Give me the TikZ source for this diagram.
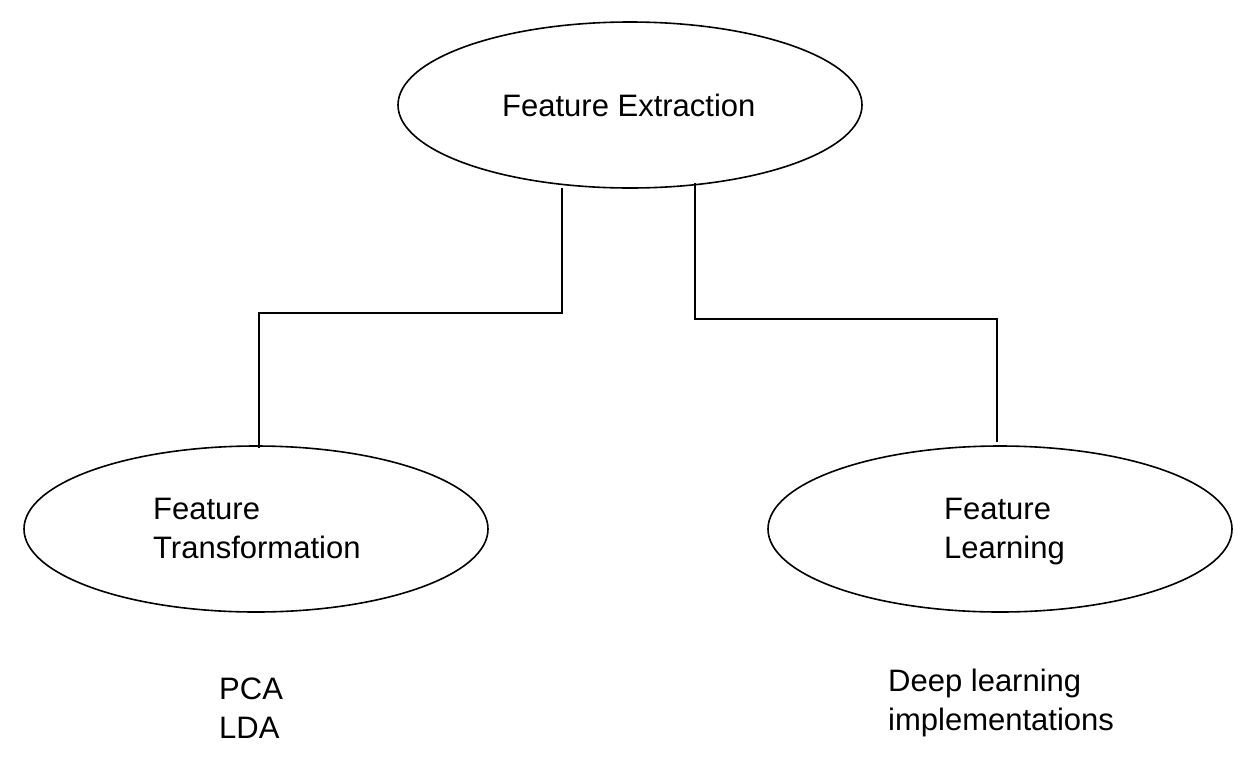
\documentclass[tikz,border=0pt]{standalone}
\usepackage{fontspec}
\setmainfont{Liberation Sans}
\usetikzlibrary{shapes.geometric,calc}
\begin{document}
\begin{tikzpicture}[x=1pt,y=-1pt,
  oval/.style={draw,ellipse,line width=1.6pt,minimum width=464pt,minimum height=166pt,inner sep=0pt},
  lbl/.style={font=\fontsize{31}{39}\selectfont,align=left,inner sep=0pt},
  conn/.style={line width=1.6pt}]
\useasboundingbox (0,0) rectangle (1257,764);
\node[oval] (top) at (630,105) {};
\node[oval] (left) at (256,529) {};
\node[oval] (right) at (1000,529) {};
\node[lbl,anchor=base west] (tt) at (502,116) {Feature Extraction};
\node[lbl,anchor=base west] (lt) at (153,558) {Feature\\Transformation};
\node[lbl,anchor=base west] (rt) at (944,558) {Feature\\Learning};
\node[lbl,anchor=base west] (pca) at (219,738) {PCA\\LDA};
\node[lbl,anchor=base west] (dl) at (888,730) {Deep learning\\implementations};
\coordinate (l0) at ($(top.center)+(-68,83)$);
\coordinate (l1) at (259,313);
\coordinate (l2) at ($(left.north)+(3,3)$);
\coordinate (r0) at ($(top.center)+(65,78)$);
\coordinate (r1) at (997,319);
\coordinate (r2) at ($(right.north)+(-3,-3)$);
\draw[conn] (l0) |- (l1) -- (l2);
\draw[conn] (r0) |- (r1) -- (r2);
\end{tikzpicture}
\end{document}
